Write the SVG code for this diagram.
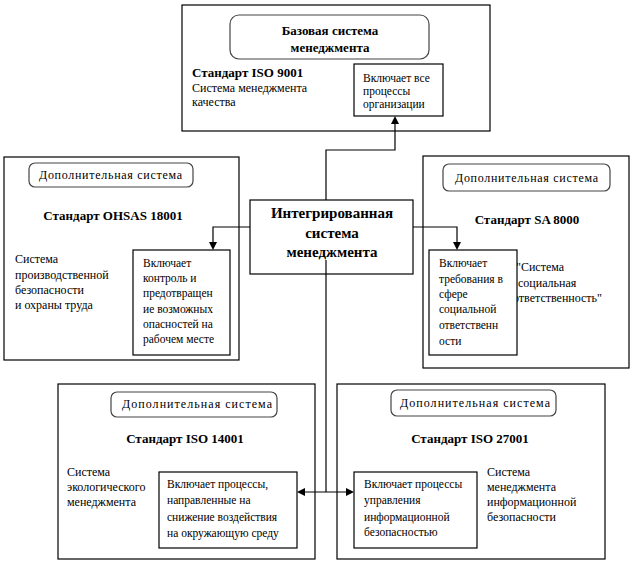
<svg xmlns="http://www.w3.org/2000/svg" width="634" height="564" viewBox="0 0 634 564" font-family="Liberation Serif">
<style>
text{font-family:'Liberation Serif',serif}
.t{font-size:12px}
.s{font-size:11.5px}
.b{font-size:13px;font-weight:bold}
.m{font-size:15px;font-weight:bold}
.c{text-anchor:middle}
.box{fill:#fff;stroke:#000;stroke-width:1.2}
.rb{fill:#fff;stroke:#444;stroke-width:1.2}
.ln{fill:none;stroke:#000;stroke-width:1.2}
.ah{fill:#000}
</style>
<rect width="634" height="564" fill="#fff"/>

<g id="top">
<rect class="box" x="182" y="5" width="308" height="126"/>
<rect class="rb" x="230" y="15" width="199" height="44" rx="9"/>
<text class="b c" x="330" y="35">Базовая система</text>
<text class="b c" x="330" y="52">менеджмента</text>
<text class="b" x="192" y="77">Стандарт ISO 9001</text>
<text class="t" x="192" y="92">Система менеджмента</text>
<text class="t" x="192" y="106">качества</text>
<rect class="box" x="354" y="64" width="89" height="52"/>
<text class="s" x="363" y="82">Включает все</text>
<text class="s" x="363" y="95">процессы</text>
<text class="s" x="363" y="108">организации</text>
</g>

<g id="left">
<rect class="box" x="4" y="157" width="235" height="203"/>
<rect class="rb" x="29" y="163" width="164" height="24" rx="6"/>
<text class="t" x="39" y="179" textLength="143" lengthAdjust="spacing">Дополнительная система</text>
<text class="b c" x="113" y="220">Стандарт OHSAS 18001</text>
<text class="t" x="15" y="263">Система</text>
<text class="t" x="15" y="279">производственной</text>
<text class="t" x="15" y="294">безопасности</text>
<text class="t" x="15" y="309">и охраны труда</text>
<rect class="box" x="133" y="250" width="97" height="105"/>
<text class="s" x="143" y="267">Включает</text>
<text class="s" x="143" y="282">контроль и</text>
<text class="s" x="143" y="297">предотвращен</text>
<text class="s" x="143" y="313">ие возможных</text>
<text class="s" x="143" y="328">опасностей на</text>
<text class="s" x="143" y="343">рабочем месте</text>
</g>

<g id="right">
<rect class="box" x="423" y="156" width="206" height="212"/>
<rect class="rb" x="443" y="164" width="167" height="27" rx="6"/>
<text class="t" x="455" y="182" textLength="143" lengthAdjust="spacing">Дополнительная система</text>
<text class="b c" x="527" y="224">Стандарт SA 8000</text>
<text class="t" x="516" y="271">"Система</text>
<text class="t" x="518" y="287">социальная</text>
<text class="t" x="513" y="302">ответственность"</text>
<rect class="box" x="429" y="250" width="88" height="105"/>
<text class="s" x="439" y="267">Включает</text>
<text class="s" x="439" y="283">требования в</text>
<text class="s" x="439" y="298">сфере</text>
<text class="s" x="439" y="313">социальной</text>
<text class="s" x="439" y="329">ответственн</text>
<text class="s" x="439" y="345">ости</text>
</g>

<g id="bottom-left">
<rect class="box" x="58" y="384" width="257" height="175"/>
<rect class="rb" x="111" y="392" width="166" height="25" rx="6"/>
<text class="t" x="122" y="408" textLength="150" lengthAdjust="spacing">Дополнительная система</text>
<text class="b c" x="185" y="443">Стандарт  ISO 14001</text>
<text class="t" x="67" y="476">Система</text>
<text class="t" x="67" y="491">экологического</text>
<text class="t" x="67" y="506">менеджмента</text>
<rect class="box" x="159" y="472" width="138" height="76"/>
<text class="s" x="167" y="488">Включает процессы,</text>
<text class="s" x="167" y="504">направленные на</text>
<text class="s" x="167" y="521">снижение воздействия</text>
<text class="s" x="167" y="537">на окружающую среду</text>
</g>

<g id="bottom-right">
<rect class="box" x="337" y="384" width="268" height="175"/>
<rect class="rb" x="391" y="390" width="165" height="26" rx="6"/>
<text class="t" x="400" y="407" textLength="150" lengthAdjust="spacing">Дополнительная система</text>
<text class="b c" x="470" y="443">Стандарт  ISO 27001</text>
<text class="t" x="487" y="476">Система</text>
<text class="t" x="487" y="491">менеджмента</text>
<text class="t" x="487" y="506">информационной</text>
<text class="t" x="487" y="521">безопасности</text>
<rect class="box" x="354" y="472" width="123" height="76"/>
<text class="s" x="364" y="488">Включает процессы</text>
<text class="s" x="364" y="504">управления</text>
<text class="s" x="364" y="521">информационной</text>
<text class="s" x="364" y="536">безопасностью</text>
</g>

<g id="center">
<rect class="box" x="250" y="200" width="163" height="74"/>
<text class="m c" x="332" y="218">Интегрированная</text>
<text class="m c" x="332" y="238">система</text>
<text class="m c" x="332" y="257">менеджмента</text>
</g>

<g id="connectors">
<path class="ln" d="M326,200 V150 H395 V122"/>
<path class="ah" d="M395,116 L391,124 L399,124 z"/>
<path class="ln" d="M250,227 H213 V244"/>
<path class="ah" d="M213,250 L209,242 L217,242 z"/>
<path class="ln" d="M413,227 H457 V244"/>
<path class="ah" d="M457,250 L453,242 L461,242 z"/>
<path class="ln" d="M326,260 V492"/>
<path class="ln" d="M303,492 H348"/>
<path class="ah" d="M297,492 L305,488 L305,496 z"/>
<path class="ah" d="M354,492 L346,488 L346,496 z"/>
</g>
</svg>
